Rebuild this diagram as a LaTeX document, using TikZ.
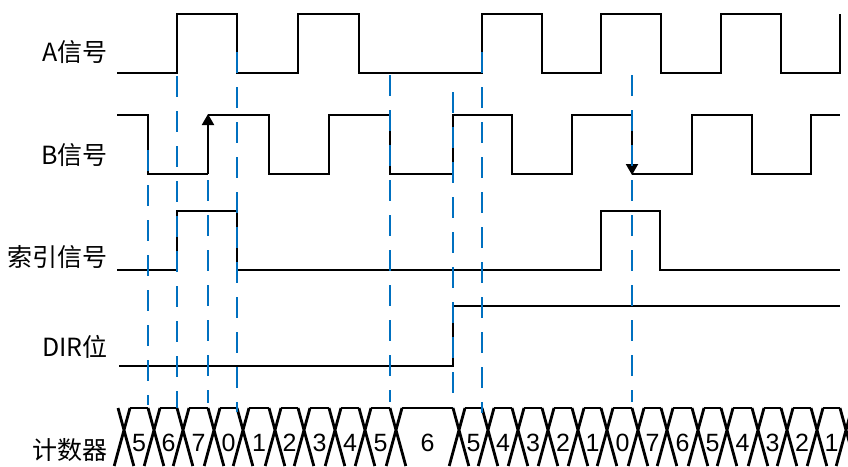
\documentclass[tikz,border=0pt]{standalone}
\usepackage{fontspec}
\setmainfont{Liberation Sans}
\newfontfamily\cjk{Noto Sans CJK SC}
\usepackage{tikz}
\usetikzlibrary{arrows.meta, positioning, calc}
\definecolor{guideblue}{RGB}{0,112,192}
\tikzset{
  wave/.style={line width=2.8pt, line join=miter, black},
  edgearrow/.style={line width=2pt, black, -{Triangle[width=12pt,length=11pt]}},
  guide/.style={line width=2.6pt, color=guideblue, dash pattern=on 21pt off 14pt},
  cnt/.style={line width=2.8pt, black},
  lbl/.style={anchor=east, inner sep=0pt, font=\cjk\fontsize{25}{25}\selectfont},
  digit/.style={inner sep=0pt, font=\fontsize{25}{25}\selectfont}
}
\begin{document}
\begin{tikzpicture}[x=1pt, y=-1pt]
  \useasboundingbox (0,0) rectangle (848,466);

  \node[lbl] (lblA) at (108,52) {A信号};
  \node[lbl] (lblB) at (108,155) {B信号};
  \node[lbl] (lblIdx) at (108,257) {索引信号};
  \node[lbl] (lblDir) at (108,347) {DIR位};
  \node[lbl] (lblCnt) at (108,450) {计数器};

  % A
  \draw[wave] (117,73) -- (177,73) -- (177,14) -- (237,14) -- (237,73) -- (298,73) -- (298,14)
    -- (359,14) -- (359,73) -- (482,73) -- (482,14) -- (542,14) -- (542,73) -- (601,73)
    -- (601,14) -- (661,14) -- (661,73) -- (721,73) -- (721,14) -- (781,14) -- (781,73)
    -- (840,73) -- (840,14);

  % B
  \draw[wave] (117,115) -- (148,115) -- (148,174) -- (208,174);
  \draw[wave] (208,115) -- (269,115) -- (269,174) -- (329,174) -- (329,115) -- (390,115)
    -- (390,174) -- (453,174) -- (453,115) -- (512,115) -- (512,174) -- (572,174)
    -- (572,115) -- (632,115);
  \draw[wave] (632,174) -- (692,174) -- (692,115) -- (752,115) -- (752,174) -- (811,174)
    -- (811,115) -- (840,115);
  \coordinate (upS) at (208,174);
  \coordinate (upE) at (208,114);
  \coordinate (dnS) at (632,115);
  \coordinate (dnE) at (632,175);
  \draw[edgearrow] (upS) -- (upE);
  \draw[edgearrow] (dnS) -- (dnE);

  % index
  \draw[wave] (117,270) -- (177,270) -- (177,211) -- (237,211) -- (237,270) -- (601,270)
    -- (601,211) -- (660,211) -- (660,270) -- (840,270);

  % DIR
  \draw[wave] (119,366) -- (453,366) -- (453,306) -- (840,306);

  % counter
  \begin{scope}
    \clip (0,0) rectangle (848,466);
    \foreach \b in {118,148,177,208,237,269,298,329,359,390,453,482,512,542,572,601,632,661,692,721,752,781,811,840}
      \draw[cnt] (\b,408) -- (\b+15.8,466) (\b+12,408) -- (\b-3.8,466);
    \foreach \l/\r/\v [count=\i] in {118/148/5,148/177/6,177/208/7,208/237/0,237/269/1,269/298/2,
        298/329/3,329/359/4,359/390/5,390/453/6,453/482/5,482/512/4,512/542/3,542/572/2,
        572/601/1,601/632/0,632/661/7,661/692/6,692/721/5,721/752/4,752/781/3,781/811/2,811/840/1} {
      \draw[cnt] (\l+12,408) -- (\r,408);
      \node[digit] (c\i) at ({(\l+\r)/2+6},443) {\v};
    }
  \end{scope}

  % guides
  \foreach \x/\s/\e in {148/150/405,177/76/408,208/180/403,237/52/412,390/75/402,453/92/407,482/52/413,632/75/402}
    \draw[guide] (\x,\s) -- (\x,\e);
\end{tikzpicture}
\end{document}
